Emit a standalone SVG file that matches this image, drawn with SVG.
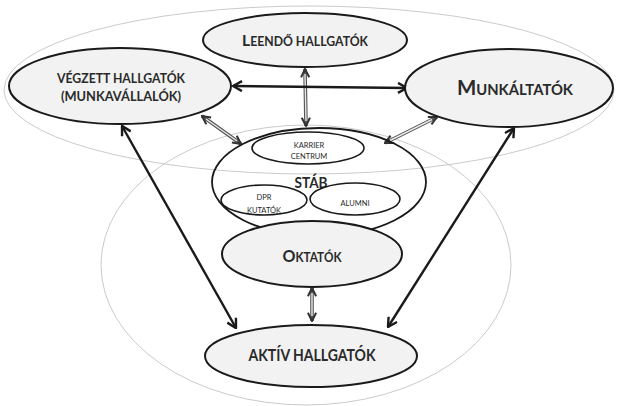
<svg xmlns="http://www.w3.org/2000/svg" width="617" height="406" viewBox="0 0 617 406">
<style>
.bg{fill:none;stroke:#bdbdbd;stroke-width:0.8}
.node{fill:#f2f2f2;stroke:#1a1a1a;stroke-width:2}
.sub{fill:#fff;stroke:#1a1a1a;stroke-width:1.6}
.lbl{font-family:Lato,"Open Sans","Liberation Sans",sans-serif;font-weight:bold;fill:#2a2a2a;text-anchor:middle}
.sm{font-family:Lato,"Open Sans","Liberation Sans",sans-serif;fill:#2a2a2a;text-anchor:middle;font-size:7.5px}
.bold{fill:none;stroke:#1a1a1a;stroke-width:2.4}
.hol{fill:none;stroke:#555;stroke-width:3.6}
.holin{fill:none;stroke:#e8e8e8;stroke-width:1.4}
</style>
<defs>
<marker id="ah" markerUnits="userSpaceOnUse" viewBox="0 0 12 12" refX="11" refY="6" markerWidth="12" markerHeight="12" orient="auto-start-reverse">
<path d="M2,1 L11,6 L2,11" fill="none" stroke="#1a1a1a" stroke-width="2.4"/>
</marker>
<marker id="ahh" markerUnits="userSpaceOnUse" viewBox="0 0 12 12" refX="11" refY="6" markerWidth="11" markerHeight="11" orient="auto-start-reverse">
<path d="M2,1.5 L11,6 L2,10.5" fill="none" stroke="#333" stroke-width="2.2"/>
</marker>
</defs>
<rect width="617" height="406" fill="#fff"/>
<g id="background">
<ellipse class="bg" cx="309" cy="90" rx="305" ry="84"/>
<ellipse class="bg" cx="306" cy="265" rx="205" ry="140"/>
</g>
<g id="connectors">
<line class="hol" x1="305" y1="69" x2="306" y2="126" marker-start="url(#ahh)" marker-end="url(#ahh)"/>
<line class="holin" x1="305" y1="74" x2="306" y2="121"/>
<line class="hol" x1="202" y1="116" x2="241" y2="144" marker-start="url(#ahh)" marker-end="url(#ahh)"/>
<line class="holin" x1="206" y1="119" x2="237" y2="141"/>
<line class="hol" x1="437" y1="117" x2="385" y2="143" marker-start="url(#ahh)" marker-end="url(#ahh)"/>
<line class="holin" x1="432" y1="119.5" x2="390" y2="140.5"/>
<line class="hol" x1="312" y1="288" x2="312" y2="321" marker-start="url(#ahh)" marker-end="url(#ahh)"/>
<line class="holin" x1="312" y1="293" x2="312" y2="316"/>
<line class="bold" x1="233" y1="86" x2="407" y2="88" marker-start="url(#ah)" marker-end="url(#ah)"/>
<line class="bold" x1="122" y1="126" x2="236" y2="328" marker-start="url(#ah)" marker-end="url(#ah)"/>
<line class="bold" x1="514" y1="128" x2="388" y2="327" marker-start="url(#ah)" marker-end="url(#ah)"/>
</g>
<g id="leendo">
<ellipse class="node" cx="305" cy="40" rx="102" ry="27"/>
<text class="lbl" x="305" y="46" textLength="126" lengthAdjust="spacingAndGlyphs"><tspan font-size="16">L</tspan><tspan font-size="12.5">EENDŐ HALLGATÓK</tspan></text>
</g>
<g id="vegzett">
<ellipse class="node" cx="120" cy="86" rx="111" ry="38"/>
<text class="lbl" x="121" y="83" font-size="13.5" textLength="128" lengthAdjust="spacingAndGlyphs">VÉGZETT HALLGATÓK</text>
<text class="lbl" x="121" y="101" font-size="13.5" textLength="120" lengthAdjust="spacingAndGlyphs">(MUNKAVÁLLALÓK)</text>
</g>
<g id="munkaltatok">
<ellipse class="node" cx="509" cy="88" rx="104" ry="39"/>
<text class="lbl" x="515" y="95" textLength="116" lengthAdjust="spacingAndGlyphs"><tspan font-size="20">M</tspan><tspan font-size="14.5">UNKÁLTATÓK</tspan></text>
</g>
<g id="stab">
<ellipse cx="319" cy="182" rx="107" ry="54" fill="none" stroke="#1a1a1a" stroke-width="1.8"/>
<text class="lbl" x="311" y="188" font-size="15" textLength="33" lengthAdjust="spacingAndGlyphs">STÁB</text>
</g>
<g id="karrier">
<ellipse class="sub" cx="308" cy="148" rx="56" ry="16"/>
<text class="sm" x="309" y="148">KARRIER</text>
<text class="sm" x="309" y="159">CENTRUM</text>
</g>
<g id="dpr">
<ellipse class="sub" cx="264" cy="200" rx="43" ry="15"/>
<text class="sm" x="264" y="200">DPR</text>
<text class="sm" x="264" y="213">KUTATÓK</text>
</g>
<g id="alumni">
<ellipse class="sub" cx="355" cy="199" rx="45" ry="16"/>
<text class="sm" x="355" y="206">ALUMNI</text>
</g>
<g id="oktatok">
<ellipse class="node" cx="312" cy="254" rx="90" ry="33"/>
<text class="lbl" x="312" y="262" textLength="59" lengthAdjust="spacingAndGlyphs"><tspan font-size="17">O</tspan><tspan font-size="12.5">KTATÓK</tspan></text>
</g>
<g id="aktiv">
<ellipse class="node" cx="311" cy="356" rx="106" ry="31"/>
<text class="lbl" x="312" y="361" font-size="17" textLength="127" lengthAdjust="spacingAndGlyphs">AKTÍV HALLGATÓK</text>
</g>
</svg>
